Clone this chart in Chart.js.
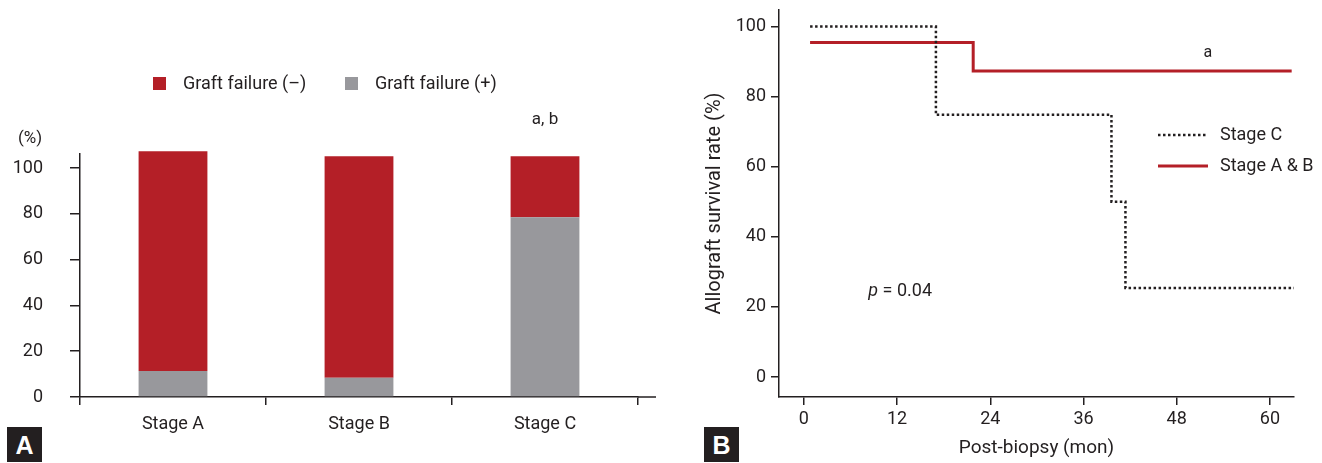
<!DOCTYPE html>
<html>
<head>
<meta charset="utf-8">
<script src="https://cdn.jsdelivr.net/npm/chart.js@4.4.1/dist/chart.umd.min.js"></script>
<style>
  body { margin: 0; background: #fff; width: 1322px; height: 463px; position: relative; overflow: hidden; }
  .panel { position: absolute; top: 0; height: 463px; }
  #panelA { left: 0; width: 660px; }
  #panelB { left: 660px; width: 662px; }
  .badge { position: absolute; width: 35px; height: 35px; background: #231f20; color: #fff;
           font: bold 25px 'Liberation Sans', sans-serif; text-align: center; line-height: 36px; }
</style>
</head>
<body>
<div class="panel" id="panelA"><canvas id="barChart" width="660" height="463"></canvas></div>
<div class="panel" id="panelB"><canvas id="kmChart" width="662" height="463"></canvas></div>
<div class="badge" style="left:7px;top:427px">A</div>
<div class="badge" style="left:704px;top:427px">B</div>
<script>
// panel A data
const stages = ['Stage A', 'Stage B', 'Stage C'];
const failureNeg = [96.0, 96.8, 26.6];
const failurePos = [11.4, 8.4, 78.6];
const pctTicks = [0, 20, 40, 60, 80, 100];

// panel B data (Kaplan-Meier steps)
const monthTicks = [0, 12, 24, 36, 48, 60];
const stageCMonths = [0.8, 17.0, 39.6, 41.4, 63.1];
const stageCSurvival = [100, 74.8, 50.0, 25.4, 25.4];
const stageABMonths = [0.8, 21.8, 62.8];
const stageABSurvival = [95.4, 87.3, 87.3];

const INK = '#231f20';
const RED = '#b41f27';
const GRAY = '#98989c';
const FONT = 'Roboto, "Liberation Sans", sans-serif';

Chart.defaults.font.family = FONT;
Chart.defaults.color = INK;

// keep the plot area where the layout padding puts it
const noPad = s => { s.paddingTop = 0; s.paddingBottom = 0; s.paddingLeft = 0; s.paddingRight = 0; };

const panelAText = {
  id: 'panelAText',
  afterDraw(chart) {
    const ctx = chart.ctx;
    const { x, y } = chart.scales;
    ctx.save();
    // x axis line runs a bit past the last tick
    ctx.strokeStyle = INK;
    ctx.lineWidth = 1.5;
    ctx.beginPath();
    ctx.moveTo(x.right, y.bottom);
    ctx.lineTo(x.right + 18, y.bottom);
    ctx.stroke();

    ctx.textBaseline = 'middle';
    ctx.font = '18px ' + FONT;
    const order = [chart.data.datasets[1], chart.data.datasets[0]];
    const starts = [153, 345];
    order.forEach((ds, i) => {
      ctx.fillStyle = ds.backgroundColor;
      ctx.fillRect(starts[i], 77, 13, 13);
      ctx.fillStyle = INK;
      ctx.fillText(ds.label, starts[i] + 30, 84);
    });
    ctx.font = '17px ' + FONT;
    ctx.fillText('(%)', 18, 139);
    ctx.textAlign = 'center';
    ctx.fillText('a, b', x.getPixelForValue(2), 120);
    ctx.restore();
  }
};

new Chart(document.getElementById('barChart'), {
  type: 'bar',
  data: {
    labels: stages,
    datasets: [
      { label: 'Graft failure (+)', data: failurePos, backgroundColor: GRAY, clip: false },
      { label: 'Graft failure (–)', data: failureNeg, backgroundColor: RED, clip: false }
    ]
  },
  options: {
    responsive: false,
    animation: false,
    devicePixelRatio: 1,
    layout: { padding: { top: 154, right: 22, bottom: 0, left: 0 } },
    datasets: { bar: { categoryPercentage: 1, barPercentage: 0.37 } },
    plugins: { legend: { display: false }, tooltip: { enabled: false } },
    scales: {
      x: {
        stacked: true,
        grid: { drawOnChartArea: false, offset: true, tickLength: 8, color: INK, lineWidth: 1.5 },
        border: { color: INK, width: 1.5 },
        ticks: { font: { size: 18 }, padding: 9, color: INK },
        afterFit: s => { s.height = 66; noPad(s); }
      },
      y: {
        stacked: true,
        min: 0,
        max: 106.2,
        afterBuildTicks: s => { s.ticks = pctTicks.map(v => ({ value: v })); },
        grid: { drawOnChartArea: false, tickLength: 10, color: INK, lineWidth: 1.5 },
        border: { color: INK, width: 1.5 },
        ticks: { font: { size: 18 }, padding: 27, color: INK },
        afterFit: s => { s.width = 80; noPad(s); }
      }
    }
  },
  plugins: [panelAText]
});

const panelBText = {
  id: 'panelBText',
  afterDraw(chart) {
    const ctx = chart.ctx;
    const { x, y } = chart.scales;
    ctx.save();
    ctx.textBaseline = 'middle';
    ctx.fillStyle = INK;
    // legend
    const rows = [135, 166];
    chart.data.datasets.forEach((ds, i) => {
      ctx.strokeStyle = ds.borderColor;
      ctx.lineWidth = ds.borderWidth;
      ctx.setLineDash(ds.borderDash || []);
      ctx.beginPath();
      ctx.moveTo(498, rows[i]);
      ctx.lineTo(548, rows[i]);
      ctx.stroke();
      ctx.setLineDash([]);
      ctx.font = '18px ' + FONT;
      ctx.fillText(ds.label, 560, rows[i]);
    });
    ctx.font = '16px ' + FONT;
    ctx.textAlign = 'center';
    ctx.fillText('a', x.getPixelForValue(52), y.getPixelForValue(92.3));
    ctx.textAlign = 'left';
    const px = x.getPixelForValue(8.3);
    const py = y.getPixelForValue(24.3);
    ctx.font = 'italic 18px ' + FONT;
    ctx.fillText('p', px, py);
    const pw = ctx.measureText('p ').width;
    ctx.font = '18px ' + FONT;
    ctx.fillText('= 0.04', px + pw, py);
    ctx.restore();
  }
};

new Chart(document.getElementById('kmChart'), {
  type: 'line',
  data: {
    datasets: [
      {
        label: 'Stage C',
        data: stageCMonths.map((m, i) => ({ x: m, y: stageCSurvival[i] })),
        borderColor: INK,
        borderWidth: 2.5,
        borderDash: [2.5, 2.5],
        stepped: true,
        pointRadius: 0,
        fill: false,
        clip: false
      },
      {
        label: 'Stage A & B',
        data: stageABMonths.map((m, i) => ({ x: m, y: stageABSurvival[i] })),
        borderColor: RED,
        borderWidth: 3,
        stepped: true,
        pointRadius: 0,
        fill: false,
        clip: false
      }
    ]
  },
  options: {
    responsive: false,
    animation: false,
    devicePixelRatio: 1,
    layout: { padding: { top: 10, right: 28, bottom: 0, left: 0 } },
    plugins: { legend: { display: false }, tooltip: { enabled: false } },
    scales: {
      x: {
        type: 'linear',
        min: -3.2,
        max: 63.1,
        afterBuildTicks: s => { s.ticks = monthTicks.map(v => ({ value: v })); },
        grid: { drawOnChartArea: false, tickLength: 8, color: INK, lineWidth: 1.5 },
        border: { color: INK, width: 1.5 },
        ticks: { font: { size: 18 }, padding: 4, color: INK },
        title: { display: true, text: 'Post-biopsy (mon)', font: { size: 19 }, color: INK, padding: { top: 0, bottom: 3 } },
        afterFit: s => { s.height = 66; noPad(s); }
      },
      y: {
        min: -5.7,
        max: 104.7,
        afterBuildTicks: s => { s.ticks = pctTicks.map(v => ({ value: v })); },
        grid: { drawOnChartArea: false, tickLength: 8, color: INK, lineWidth: 1.5 },
        border: { color: INK, width: 1.5 },
        ticks: { font: { size: 18 }, padding: 5, color: INK },
        title: { display: true, text: 'Allograft survival rate (%)', font: { size: 20 }, color: INK, padding: { top: 43, bottom: 0 } },
        afterFit: s => { s.width = 119; noPad(s); }
      }
    }
  },
  plugins: [panelBText]
});
</script>
</body>
</html>
